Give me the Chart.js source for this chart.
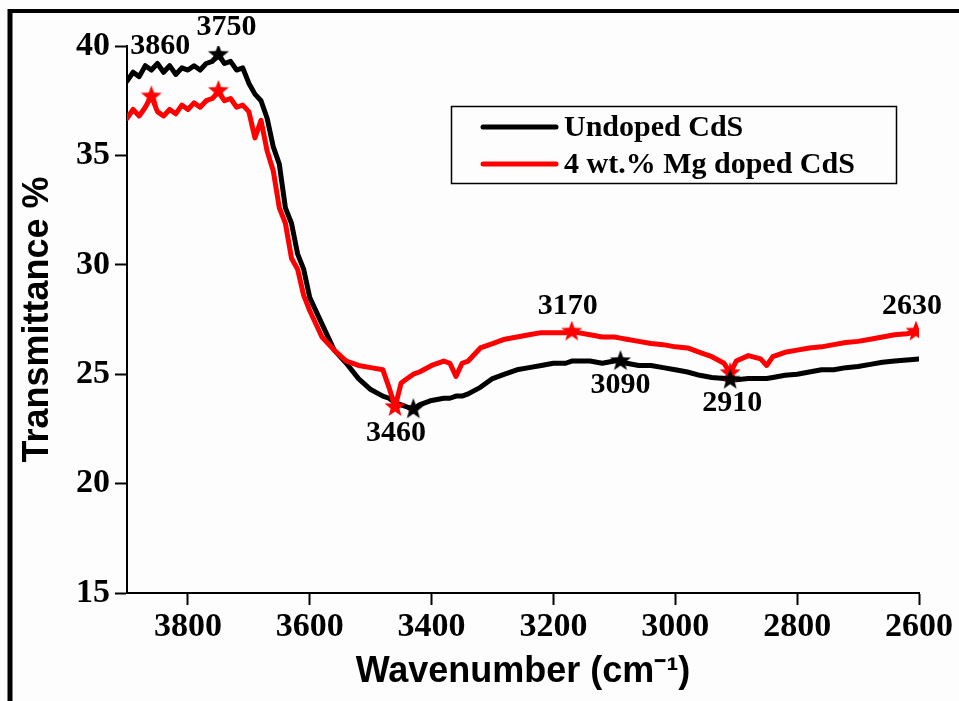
<!DOCTYPE html>
<html>
<head>
<meta charset="utf-8">
<script src="https://cdn.jsdelivr.net/npm/chart.js@4"></script>
<style>
  html, body { margin: 0; padding: 0; background: #fdfdfd; }
  #wrap { width: 959px; height: 701px; }
</style>
</head>
<body>
<div id="wrap"><canvas id="ftir"></canvas></div>
<script>
// wavenumber grid (cm-1), shared by both spectra
const wavenumbers = [
  3900,3890,3880,3870,3860,3850,3840,3830,3820,3810,3800,3790,3780,3770,3760,3750,3740,3730,3720,3710,3700,
  3690,3680,3670,3660,3650,3640,3630,3620,3610,3600,
  3580,3560,3540,3520,3500,3480,3470,3460,3450,3440,3430,3420,3400,
  3380,3370,3360,3350,3340,3320,3300,3280,3260,3240,3220,3200,
  3180,3170,3160,3140,3120,3100,3090,3080,3060,3040,3020,3000,
  2980,2960,2940,2920,2910,2900,2880,2860,2850,2840,2820,2800,
  2780,2760,2740,2720,2700,2680,2660,2640,2620,2600
];
// transmittance %
const undopedCdS = [
  38.4,38.8,38.6,39.1,38.9,39.2,38.8,39.1,38.7,39.0,38.9,39.1,38.9,39.2,39.3,39.6,39.2,39.3,38.9,39.0,38.3,
  37.8,37.5,36.7,35.4,34.6,32.6,31.9,30.5,29.8,28.5,
  27.3,26.1,25.5,24.8,24.3,24.0,23.9,23.7,23.6,23.5,23.4,23.6,23.8,
  23.9,23.9,24.0,24.0,24.1,24.4,24.8,25.0,25.2,25.3,25.4,25.5,
  25.5,25.6,25.6,25.6,25.5,25.6,25.6,25.5,25.4,25.4,25.3,25.2,
  25.1,24.95,24.85,24.8,24.75,24.75,24.8,24.8,24.8,24.85,24.95,25.0,
  25.1,25.2,25.2,25.3,25.35,25.45,25.55,25.6,25.65,25.7
];
const mgDopedCdS = [
  36.7,37.1,36.8,37.2,37.7,37.0,36.8,37.1,36.9,37.3,37.1,37.4,37.2,37.5,37.6,37.9,37.5,37.6,37.2,37.3,37.0,
  35.8,36.6,35.2,34.3,32.6,31.9,30.3,29.8,28.6,27.9,
  26.7,26.1,25.6,25.4,25.3,25.2,24.4,23.5,24.6,24.8,25.0,25.1,25.4,
  25.6,25.5,24.9,25.5,25.6,26.2,26.4,26.6,26.7,26.8,26.9,26.9,
  26.9,26.95,26.9,26.8,26.7,26.7,26.65,26.6,26.5,26.4,26.35,26.25,
  26.2,26.0,25.8,25.5,25.05,25.6,25.85,25.7,25.4,25.8,26.0,26.1,
  26.2,26.25,26.35,26.45,26.5,26.6,26.7,26.8,26.85,26.95
];
// star markers
const undopedStarX = [3750, 3430, 3090, 2910];
const undopedStarY = [39.6, 23.4, 25.6, 24.75];
const dopedStarX = [3860, 3750, 3460, 3170, 2910, 2605];
const dopedStarY = [37.7, 37.95, 23.5, 26.95, 25.05, 26.95];
// peak labels, each hung on a star
const peakText = ["3860", "3750", "3460", "3170", "3090", "2910", "2630"];
const peakX = [3860, 3750, 3460, 3170, 3090, 2910, 2605];
const peakY = [37.7, 39.6, 23.5, 26.95, 25.6, 24.75, 26.95];
const seriesNames = ["Undoped CdS", "4 wt.% Mg doped CdS"];
const xTicks = [3800, 3600, 3400, 3200, 3000, 2800, 2600];

const BLACK = "#000000", RED = "#ff0000";

function makeStar(color, r){
    let c = document.createElement("canvas");
    c.width = c.height = 2*r;
    let g = c.getContext("2d");
    g.beginPath();
    for(let i=0;i<10;i++){
        let rad = (i%2===0) ? r : r*0.42;
        let a = -Math.PI/2 + i*Math.PI/5;
        let px = r + rad*Math.cos(a), py = r + rad*Math.sin(a);
        if(i===0) g.moveTo(px,py); else g.lineTo(px,py);
    }
    g.closePath();
    g.fillStyle = color;
    g.fill();
    return c;
}

function pts(xs, ys){ return xs.map((x,i)=>({x:x, y:ys[i]})); }

// frame + background
const framePlugin = {
    id: "frame",
    beforeDraw(chart){
        let ctx = chart.ctx;
        ctx.save();
        ctx.fillStyle = "#fdfdfd";
        ctx.fillRect(0,0,chart.width,chart.height);
        ctx.strokeStyle = BLACK;
        ctx.lineWidth = 4;
        ctx.beginPath(); ctx.moveTo(8,11); ctx.lineTo(chart.width,11); ctx.stroke();
        ctx.lineWidth = 5;
        ctx.beginPath(); ctx.moveTo(10,9); ctx.lineTo(10,chart.height); ctx.stroke();
        ctx.restore();
    }
};

// peak numbers + boxed legend
const labelOffsets = [[9,-50],[8,-28],[1,26],[-4,-25],[0,24],[2,24],[-4,-25]];
const notesPlugin = {
    id: "notes",
    afterDraw(chart){
        let ctx = chart.ctx, xs = chart.scales.x, ys = chart.scales.y;
        ctx.save();
        ctx.fillStyle = BLACK;
        ctx.font = "bold 30px 'Liberation Serif', 'Times New Roman', serif";
        ctx.textAlign = "center";
        ctx.textBaseline = "middle";
        peakText.forEach(function(t,i){
            let px = xs.getPixelForValue(peakX[i]) + labelOffsets[i][0];
            let py = ys.getPixelForValue(peakY[i]) + labelOffsets[i][1];
            ctx.fillText(t, px, py);
        });
        // legend
        ctx.strokeStyle = BLACK;
        ctx.lineWidth = 1.5;
        ctx.strokeRect(451.5, 106.5, 445, 77);
        let colors = [BLACK, RED], rows = [127, 164];
        ctx.font = "bold 30px 'Liberation Serif', 'Times New Roman', serif";
        ctx.textAlign = "left";
        seriesNames.forEach(function(n,i){
            ctx.strokeStyle = colors[i];
            ctx.lineWidth = 5;
            ctx.lineCap = "round";
            ctx.beginPath(); ctx.moveTo(483, rows[i]); ctx.lineTo(556, rows[i]); ctx.stroke();
            ctx.fillStyle = BLACK;
            ctx.fillText(n, 564, rows[i]+1);
        });
        ctx.restore();
    }
};

const tickFont = {family: "'Liberation Serif', 'Times New Roman', serif", size: 34, weight: "bold"};
const titleFont = {family: "'Liberation Sans', Arial, sans-serif", size: 36, weight: "bold"};

new Chart(document.getElementById("ftir"), {
    type: "scatter",
    data: {
        datasets: [
            {label: "undoped stars", data: pts(undopedStarX, undopedStarY), showLine: false,
             pointStyle: makeStar(BLACK, 11), pointRadius: 11, order: 0},
            {label: "doped stars", data: pts(dopedStarX, dopedStarY), showLine: false,
             pointStyle: makeStar(RED, 11), pointRadius: 11, order: 0},
            {label: seriesNames[1], data: pts(wavenumbers, mgDopedCdS), showLine: true,
             borderColor: RED, borderWidth: 5, pointRadius: 0, tension: 0, order: 1},
            {label: seriesNames[0], data: pts(wavenumbers, undopedCdS), showLine: true,
             borderColor: BLACK, borderWidth: 5, pointRadius: 0, tension: 0, order: 2}
        ]
    },
    options: {
        responsive: true,
        maintainAspectRatio: false,
        animation: false,
        layout: {padding: {left: 0, top: 46, right: 40, bottom: 0}},
        plugins: {legend: {display: false}, tooltip: {enabled: false}},
        elements: {line: {borderJoinStyle: "round", borderCapStyle: "round"}},
        scales: {
            x: {
                type: "linear", min: 2600, max: 3900, reverse: true,
                afterBuildTicks(s){ s.ticks = xTicks.map(v=>({value:v})); },
                afterFit(s){ s.height = 108; },
                ticks: {color: BLACK, font: tickFont, padding: 2, maxRotation: 0,
                        callback: v => String(v)},
                grid: {drawOnChartArea: false, tickLength: 12, tickWidth: 2, tickColor: BLACK},
                border: {color: BLACK, width: 2},
                title: {display: true, text: "Wavenumber (cm\u207B\u00B9)", color: BLACK, font: titleFont,
                        padding: {top: 0, bottom: 7}}
            },
            y: {
                min: 15, max: 40,
                afterFit(s){ s.width = 127; },
                ticks: {stepSize: 5, color: BLACK, font: tickFont, padding: 5},
                grid: {drawOnChartArea: false, tickLength: 12, tickWidth: 2, tickColor: BLACK},
                border: {color: BLACK, width: 2},
                title: {display: true, text: "Transmittance %", color: BLACK, font: titleFont,
                        padding: {top: 16, bottom: 0}}
            }
        }
    },
    plugins: [framePlugin, notesPlugin]
});
</script>
</body>
</html>
